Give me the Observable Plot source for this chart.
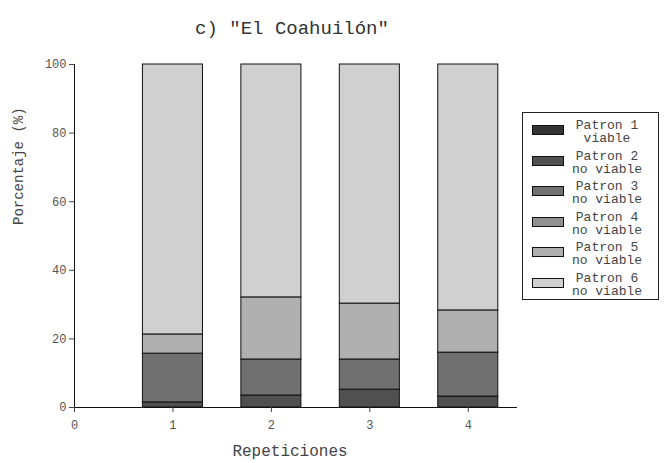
<!DOCTYPE html>
<html>
<head>
<meta charset="utf-8">
<script src="https://cdn.jsdelivr.net/npm/d3@7"></script>
<script src="https://cdn.jsdelivr.net/npm/@observablehq/plot@0.6"></script>
<style>
  html, body { margin: 0; padding: 0; background: #fff; }
  #wrap { position: relative; width: 665px; height: 463px; font-family: "Liberation Mono", "DejaVu Sans Mono", monospace; color: #444; }
  #legend { position: absolute; left: 522px; top: 112px; width: 137px; height: 188px; border: 1px solid #222; box-sizing: border-box; background: #fff; }
  .item { position: absolute; left: 0; width: 135px; height: 30px; }
  .sw { position: absolute; left: 9px; top: 6px; width: 30px; height: 8px; border: 1px solid #111; }
  .lab { position: absolute; left: 41px; top: 0px; width: 86px; text-align: center; font-size: 13px; line-height: 13px; white-space: pre; color: #444; }
</style>
</head>
<body>
<div id="wrap"></div>
<script>
const titulo = 'c) "El Coahuilón"';
const repeticiones = [1, 2, 3, 4];
const patrones = ["Patron 1", "Patron 2", "Patron 3", "Patron 4", "Patron 5", "Patron 6"];
const etiquetas = ["Patron 1\nviable", "Patron 2\nno viable", "Patron 3\nno viable", "Patron 4\nno viable", "Patron 5\nno viable", "Patron 6\nno viable"];
const colores = ["#333333", "#505050", "#707070", "#909090", "#b0b0b0", "#d0d0d0"];
// porcentajes por patrón (una entrada por repetición)
const patron1 = [0, 0, 0, 0];
const patron2 = [1.5, 3.5, 5.2, 3.2];
const patron3 = [14.2, 10.5, 8.8, 12.8];
const patron4 = [0, 0, 0, 0];
const patron5 = [5.6, 18.1, 16.3, 12.3];
const patron6 = [78.7, 67.9, 69.7, 71.7];
const xTicks = [0, 1, 2, 3, 4];
const yTicks = [0, 20, 40, 60, 80, 100];

const series = [patron1, patron2, patron3, patron4, patron5, patron6];
const rows = [];
repeticiones.forEach((r, j) => {
  let acc = 0;
  series.forEach((s, i) => {
    const v = s[j];
    rows.push({rep: r, patron: patrones[i], y1: acc, y2: acc + v, v});
    acc += v;
  });
});
const halfW = 0.305;

const chart = Plot.plot({
  width: 665,
  height: 463,
  marginLeft: 74,
  marginRight: 148,
  marginTop: 64,
  marginBottom: 56,
  style: {fontFamily: "Liberation Mono, DejaVu Sans Mono, monospace", fontSize: "12px", color: "#444", background: "#fff"},
  x: {domain: [0, 4.5], label: null},
  y: {domain: [0, 100], label: null},
  color: {domain: patrones, range: colores},
  marks: [
    Plot.rectY(rows.filter(d => d.v > 0), {
      x1: d => d.rep - halfW, x2: d => d.rep + halfW, y1: "y1", y2: "y2",
      fill: "patron", stroke: "#111", strokeWidth: 1
    }),
    Plot.ruleX([0], {stroke: "#111"}),
    Plot.ruleY([0], {stroke: "#111"}),
    Plot.axisX({ticks: xTicks, tickFormat: d => String(d), tickSize: 5, tickPadding: 8, stroke: "#444", fill: "#555", fontSize: 12, label: null}),
    Plot.axisY({ticks: yTicks, tickFormat: d => String(d), tickSize: 5, tickPadding: 3, stroke: "#444", fill: "#555", fontSize: 12, label: null}),
    Plot.text([titulo], {frameAnchor: "top", dx: -4, dy: -44, fontSize: 19, fill: "#333"}),
    Plot.text(["Repeticiones"], {frameAnchor: "bottom", dx: -6, dy: 48, fontSize: 16, fill: "#444"}),
    Plot.text(["Porcentaje (%)"], {frameAnchor: "left", dx: -56, dy: -11, rotate: -90, fontSize: 14, fill: "#444"})
  ]
});
const wrap = document.getElementById("wrap");
wrap.appendChild(chart);

const legend = document.createElement("div");
legend.id = "legend";
etiquetas.forEach((t, i) => {
  const it = document.createElement("div");
  it.className = "item";
  it.style.top = (6 + i * 30.6) + "px";
  const sw = document.createElement("div");
  sw.className = "sw";
  sw.style.background = colores[i];
  const lab = document.createElement("div");
  lab.className = "lab";
  lab.textContent = t;
  it.appendChild(sw);
  it.appendChild(lab);
  legend.appendChild(it);
});
wrap.appendChild(legend);
</script>
</body>
</html>
